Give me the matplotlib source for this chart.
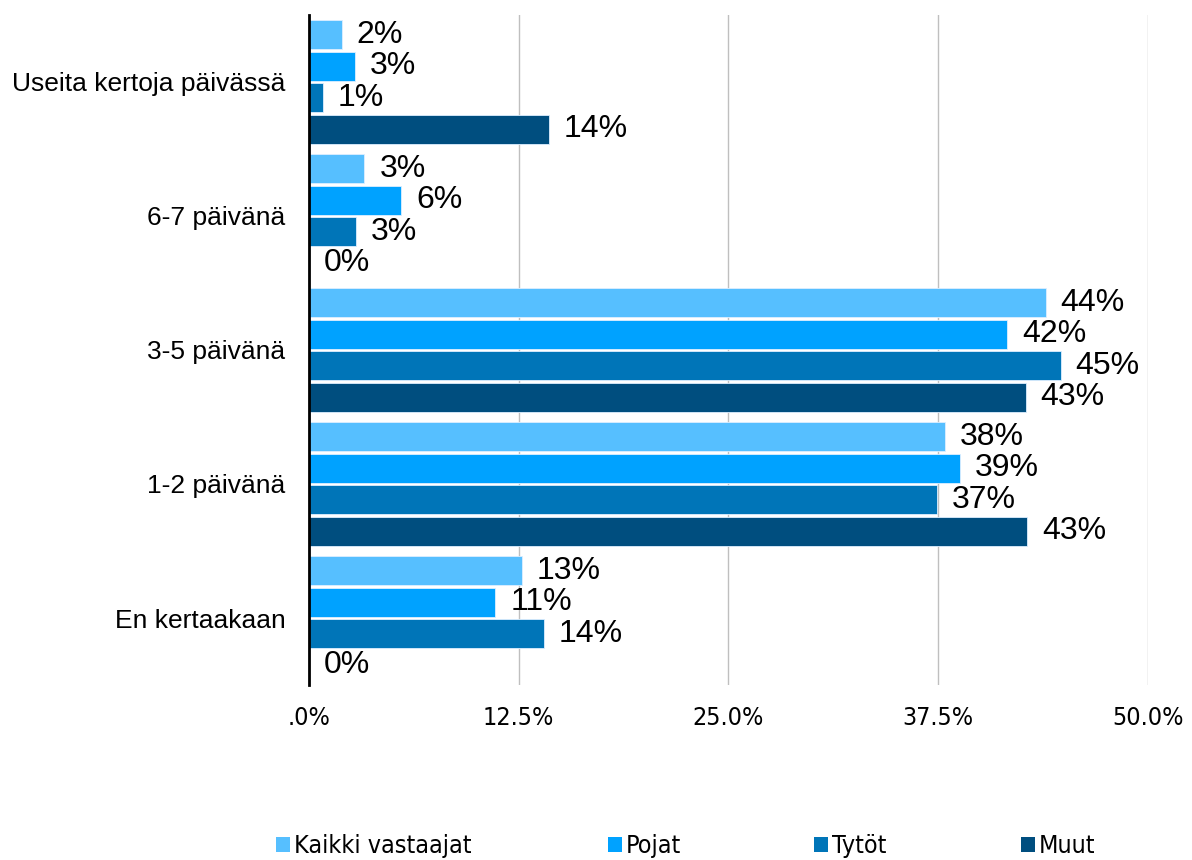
import matplotlib.pyplot as plt
from matplotlib.patches import Patch
import numpy as np

categories = ['Useita kertoja päivässä', '6-7 päivänä', '3-5 päivänä', '1-2 päivänä', 'En kertaakaan']
series_names = ['Kaikki vastaajat', 'Pojat', 'Tytöt', 'Muut']
kaikki = [1.95, 3.3, 43.9, 37.9, 12.7]
pojat = [2.75, 5.5, 41.6, 38.8, 11.1]
tytot = [0.82, 2.8, 44.8, 37.4, 14.0]
muut = [14.3, 0.0, 42.7, 42.8, 0.0]
labels = [
    ['2%', '3%', '44%', '38%', '13%'],
    ['3%', '6%', '42%', '39%', '11%'],
    ['1%', '3%', '45%', '37%', '14%'],
    ['14%', '0%', '43%', '43%', '0%'],
]
xticks = [0, 12.5, 25, 37.5, 50]
xticklabels = ['.0%', '12.5%', '25.0%', '37.5%', '50.0%']

colors = ['#56BFFF', '#00A2FF', '#0075B8', '#004E7F']
plt.rcParams['font.family'] = ['Liberation Sans', 'DejaVu Sans']
narrow = {'family': 'DejaVu Sans', 'stretch': 'condensed', 'size': 18}

fig = plt.figure(figsize=(11.92, 8.6), dpi=100)
ax = fig.add_axes([309/1192, 1-685/860, (1148-309)/1192, 670/860])

values = [kaikki, pojat, tytot, muut]
y = np.arange(len(categories))
pitch = 0.235
for i, vals in enumerate(values):
    pos = y + (i - 1.5) * pitch
    ax.barh(pos, vals, height=0.218, color=colors[i], edgecolor='#DDEEFF', linewidth=0.6, zorder=3)
    for p, v, lab in zip(pos, vals, labels[i]):
        ax.annotate(lab, (v, p), xytext=(15, 0), textcoords='offset pixels',
                    ha='left', va='center', fontsize=23, color='black')

ax.set_ylim(len(categories) - 0.5, -0.5)
ax.set_xlim(0, 50)
ax.set_yticks(y)
ax.set_yticklabels(categories, fontsize=19)
ax.set_xticks(xticks)
ax.set_xticklabels(xticklabels, fontproperties=narrow)
ax.tick_params(axis='y', length=0, pad=17)
ax.tick_params(axis='x', length=0, pad=15)
ax.grid(axis='x', color='#BFBFBF', linewidth=1, zorder=0)
for s in ['top', 'right', 'bottom']:
    ax.spines[s].set_visible(False)
ax.spines['left'].set_linewidth(2)
ax.spines['left'].set_zorder(4)

legend_x = [276, 608, 814, 1021]
for name, c, lx in zip(series_names, colors, legend_x):
    fig.legend(handles=[Patch(facecolor=c, edgecolor='none')], labels=[name],
               loc='center left', bbox_to_anchor=(lx/1192, 1-846/860), frameon=False,
               handlelength=0.55, handleheight=0.55, handletextpad=0.15, borderaxespad=0,
               borderpad=0, prop=narrow)

fig.savefig('out.png', dpi=100)
